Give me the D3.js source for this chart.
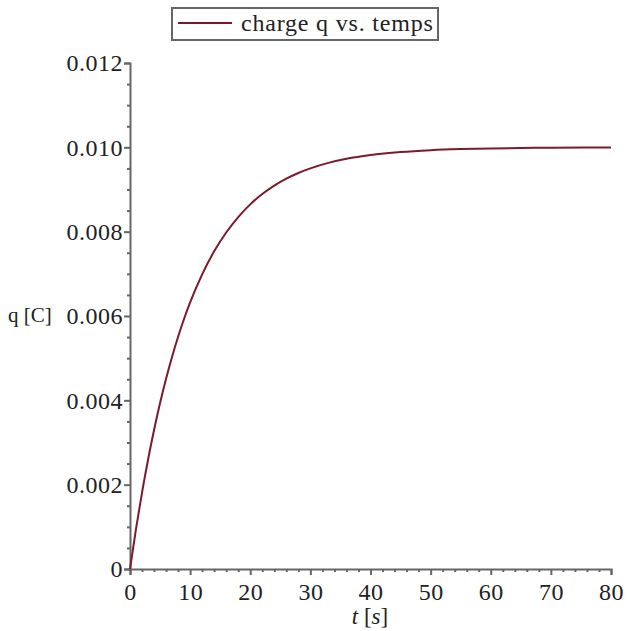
<!DOCTYPE html>
<html><head><meta charset="utf-8">
<script src="https://cdn.jsdelivr.net/npm/d3@7"></script>
<style>body{margin:0;background:#fff}svg{display:block}</style>
</head><body>
<script>
const tValues = [0,1,2,3,4,5,6,7,8,9,10,12,14,16,18,20,22,24,26,28,30,33,36,40,45,50,55,60,70,80];
const qValues = [0,0.000952,0.001813,0.002592,0.003297,0.003935,0.004512,0.005034,0.005507,0.005934,0.006321,0.006988,0.007534,0.007981,0.008347,0.008647,0.008892,0.009093,0.009257,0.009392,0.009502,0.009631,0.009727,0.009817,0.009889,0.009933,0.009959,0.009975,0.009991,0.009997];
const xTicks = [0,10,20,30,40,50,60,70,80];
const yTicks = [0,0.002,0.004,0.006,0.008,0.010,0.012];
const yTickLabels = ["0","0.002","0.004","0.006","0.008","0.010","0.012"];
const legendLabel = "charge q vs. temps t";
const seriesColor = "#7a1a2a";

const W = 628, H = 631;
const svg = d3.select("body").append("svg").attr("width", W).attr("height", H);
const x = d3.scaleLinear().domain([0,80]).range([130,611]);
const y = d3.scaleLinear().domain([0,0.012]).range([569,63]);
const font = "'Liberation Serif','Times New Roman',serif";
const axisColor = "#666";
const textColor = "#222";

// y axis
const yAxis = svg.append("g").attr("transform","translate(130,0)")
  .call(d3.axisLeft(y).tickValues(yTicks).tickFormat((d,i)=>yTickLabels[i]).tickSize(6).tickPadding(1));
const yMinor = svg.append("g").attr("transform","translate(130,0)")
  .call(d3.axisLeft(y).tickValues(d3.range(0,0.0121,0.0005).filter(v=>Math.abs(v/0.002-Math.round(v/0.002))>1e-6)).tickFormat("").tickSize(3));
// x axis
const xAxis = svg.append("g").attr("transform","translate(0,569)")
  .call(d3.axisBottom(x).tickValues(xTicks).tickSize(6).tickPadding(8));
const xMinor = svg.append("g").attr("transform","translate(0,569)")
  .call(d3.axisBottom(x).tickValues(d3.range(0,80.1,2).filter(v=>v%10!==0)).tickFormat("").tickSize(3));

svg.selectAll(".domain").attr("stroke",axisColor).attr("stroke-width",2);
svg.selectAll(".tick line").attr("stroke",axisColor).attr("stroke-width",2);
svg.selectAll(".tick text").attr("fill",textColor).style("font-family",font).style("font-size","24px").style("letter-spacing","0.5px");
yMinor.select(".domain").remove();
xMinor.select(".domain").remove();

// curve
const data = tValues.map((t,i)=>({t, q:qValues[i]}));
svg.append("path").datum(data)
  .attr("fill","none").attr("stroke",seriesColor).attr("stroke-width",2)
  .attr("d", d3.line().x(d=>x(d.t)).y(d=>y(d.q)).curve(d3.curveMonotoneX));

// axis titles
svg.append("text").attr("x",8).attr("y",322).attr("fill",textColor)
  .style("font-family",font).style("font-size","21px").text("q [C]");
const xt = svg.append("text").attr("x",370).attr("y",624).attr("text-anchor","middle").attr("fill",textColor)
  .style("font-family",font).style("font-size","23px");
xt.append("tspan").style("font-style","italic").text("t");
xt.append("tspan").text(" [");
xt.append("tspan").style("font-style","italic").text("s");
xt.append("tspan").text("]");

// legend
svg.append("clipPath").attr("id","lgclip").append("rect").attr("x",172).attr("y",7).attr("width",266).attr("height",34);
svg.append("rect").attr("x",172).attr("y",8).attr("width",266).attr("height",32)
  .attr("fill","#fff").attr("stroke","#666").attr("stroke-width",2);
svg.append("line").attr("x1",178).attr("x2",232).attr("y1",23).attr("y2",23)
  .attr("stroke",seriesColor).attr("stroke-width",2);
svg.append("text").attr("x",241).attr("y",31).attr("fill",textColor).attr("clip-path","url(#lgclip)")
  .style("font-family",font).style("font-size","24px").style("letter-spacing","0.8px").text(legendLabel);
</script>
</body></html>
